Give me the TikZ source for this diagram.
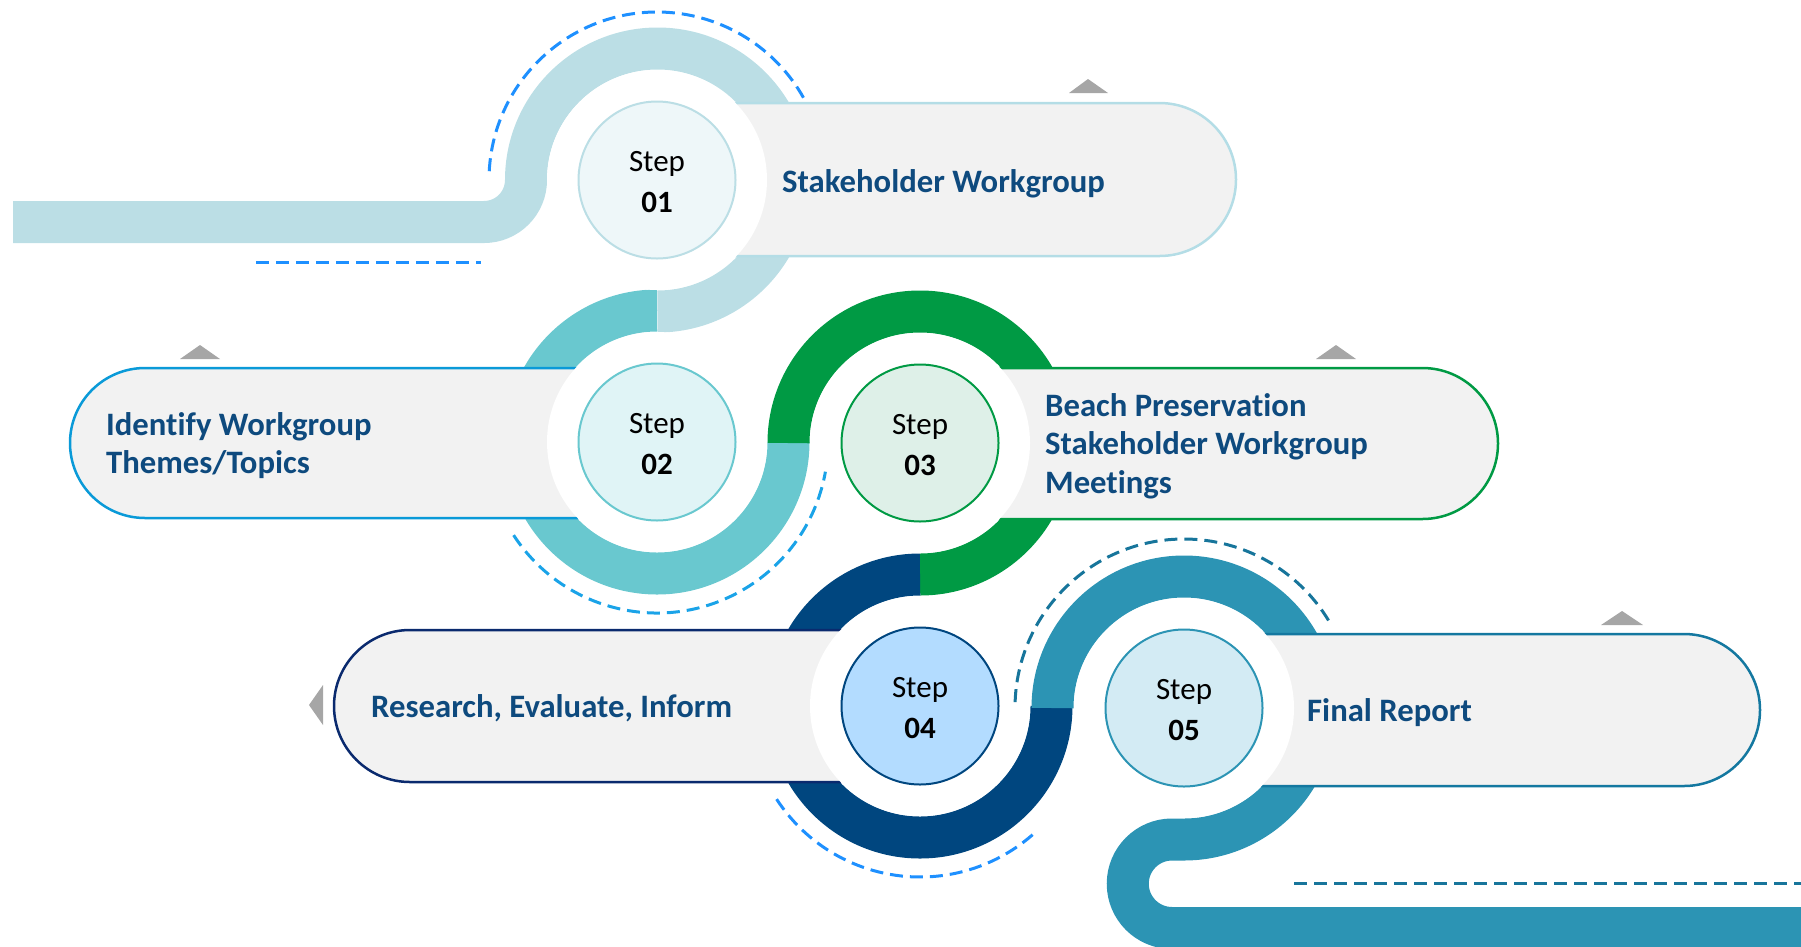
\documentclass[tikz,border=0pt]{standalone}
\usepackage{fontspec}
\setmainfont{Carlito}[Ligatures=NoCommon]
\definecolor{ringA}{HTML}{BBDEE5}
\definecolor{ringB}{HTML}{69C8CF}
\definecolor{ringC}{HTML}{009A44}
\definecolor{ringD}{HTML}{00467F}
\definecolor{ringE}{HTML}{2C94B4}
\definecolor{bordA}{HTML}{B4DDE6}
\definecolor{bordB}{HTML}{0A9AD8}
\definecolor{bordC}{HTML}{009A44}
\definecolor{bordD}{HTML}{0A2A6E}
\definecolor{bordE}{HTML}{1478A0}
\definecolor{fillA}{HTML}{EEF7F9}
\definecolor{fillB}{HTML}{E0F4F6}
\definecolor{fillC}{HTML}{DEF0E8}
\definecolor{fillD}{HTML}{B3DCFF}
\definecolor{fillE}{HTML}{D3EBF4}
\definecolor{boxgray}{HTML}{F2F2F2}
\definecolor{trigray}{HTML}{A6A6A6}
\definecolor{txtblue}{HTML}{0E4A7E}
\definecolor{dashA}{HTML}{1E90FF}
\definecolor{dashB}{HTML}{1AA3E8}
\definecolor{dashE}{HTML}{17759B}
\tikzset{
  band/.style={line width=42pt},
  dashline/.style={line width=3pt, dash pattern=on 13pt off 7pt},
  pill/.style={fill=boxgray, line width=2.5pt},
  stepcirc/.style={circle, minimum size=157pt, inner sep=0pt, line width=2pt},
  steplbl/.style={anchor=base, inner sep=0pt, font=\fontsize{31}{37}\selectfont},
  stepnum/.style={anchor=base, inner sep=0pt, font=\bfseries\fontsize{31}{37}\selectfont},
  boxlbl/.style={anchor=base west, inner sep=0pt, text=txtblue, font=\bfseries\fontsize{32.7}{38}\selectfont},
  tri/.style={fill=trigray}
}
\begin{document}
\begin{tikzpicture}[x=1pt,y=1pt]
\useasboundingbox (0,0) rectangle (1801,-946);
\clip (0,0) rectangle (1801,-946);
% centres
\coordinate (c1) at (657,-180);
\coordinate (c2) at (657,-442);
\coordinate (c3) at (920,-443);
\coordinate (c4) at (920,-706);
\coordinate (c5) at (1184,-708);
% bands
\draw[band, ringA] (13,-222) -- (484,-222) arc[start angle=-90, end angle=0, radius=42]
   arc[start angle=180, end angle=-90, radius=131.5];
\draw[band, ringB] ([yshift=131.5pt]c2) arc[start angle=90, end angle=360, radius=131.5];
\draw[band, ringC] ([xshift=-131.5pt]c3) arc[start angle=180, end angle=-90, radius=131.5];
\draw[band, ringD] ([yshift=131.5pt]c4) arc[start angle=90, end angle=360, radius=131.5];
\draw[band, ringE] ([xshift=-131.5pt]c5) arc[start angle=180, end angle=-90, radius=131.5]
   -- (1172,-839.5) arc[start angle=90, end angle=270, radius=44.25] -- (1810,-928);
% triangles
\fill[tri] (1069,-93) -- (1088,-79) -- (1108,-93) -- cycle;
\fill[tri] (180,-359) -- (200,-345) -- (220,-359) -- cycle;
\fill[tri] (1316,-359) -- (1336,-345) -- (1356,-359) -- cycle;
\fill[tri] (323,-685) -- (309,-705) -- (323,-725) -- cycle;
\fill[tri] (1601,-625) -- (1622,-611) -- (1643,-625) -- cycle;
% boxes
\draw[pill, draw=bordA] (657,-103) -- (1159.5,-103) arc[start angle=90, end angle=-90, radius=76.5] -- (657,-256) -- cycle;
\draw[pill, draw=bordB] (657,-368) -- (145,-368) arc[start angle=90, end angle=270, radius=75] -- (657,-518) -- cycle;
\draw[pill, draw=bordC] (920,-368) -- (1422.5,-368) arc[start angle=90, end angle=-90, radius=75.5] -- (920,-519) -- cycle;
\draw[pill, draw=bordD] (920,-630) -- (410,-630) arc[start angle=90, end angle=270, radius=76] -- (920,-782) -- cycle;
\draw[pill, draw=bordE] (1184,-634) -- (1684,-634) arc[start angle=90, end angle=-90, radius=76] -- (1184,-786) -- cycle;
% halos
\foreach \c in {c1,c2,c3,c4,c5} \fill[white] (\c) circle[radius=110];
% dashed guides
\draw[dashline, dashA] (c1) ++(177:168) arc[start angle=177, end angle=29, radius=168];
\draw[dashline, dashA] (256,-262) -- (481,-262);
\draw[dashline, dashB] (c2) ++(213:171) arc[start angle=213, end angle=350, radius=171];
\draw[dashline, dashA] (c4) ++(213:171) arc[start angle=213, end angle=313, radius=171];
\draw[dashline, dashE] (c5) ++(178:169) arc[start angle=178, end angle=29, radius=169];
\draw[dashline, dashE] (1294,-883) -- (1801,-883);
% step circles
\node[stepcirc, draw=ringA, fill=fillA] (s1) at (c1) {};
\node[stepcirc, draw=ringB, fill=fillB] (s2) at (c2) {};
\node[stepcirc, draw=ringC, fill=fillC] (s3) at (c3) {};
\node[stepcirc, draw=ringD, fill=fillD] (s4) at (c4) {};
\node[stepcirc, draw=ringE, fill=fillE] (s5) at (c5) {};
\foreach \c/\n in {c1/01,c2/02,c3/03,c4/04,c5/05}{
  \node[steplbl] (t\n) at ([yshift=9pt]\c) {Step};
  \node[stepnum] (n\n) at ([yshift=-32pt]\c) {\n};
}
% box labels
\node[boxlbl] (l1) at (782,-192) {Stakeholder Workgroup};
\node[boxlbl] (l2a) at (106,-435) {Identify Workgroup};
\node[boxlbl] (l2b) at (106,-473) {Themes/Topics};
\node[boxlbl] (l3a) at (1045,-416) {Beach Preservation};
\node[boxlbl] (l3b) at (1045,-454) {Stakeholder Workgroup};
\node[boxlbl] (l3c) at (1045,-493) {Meetings};
\node[boxlbl] (l4) at (371,-717) {Research, Evaluate, Inform};
\node[boxlbl] (l5) at (1307,-721) {Final Report};
\end{tikzpicture}
\end{document}
